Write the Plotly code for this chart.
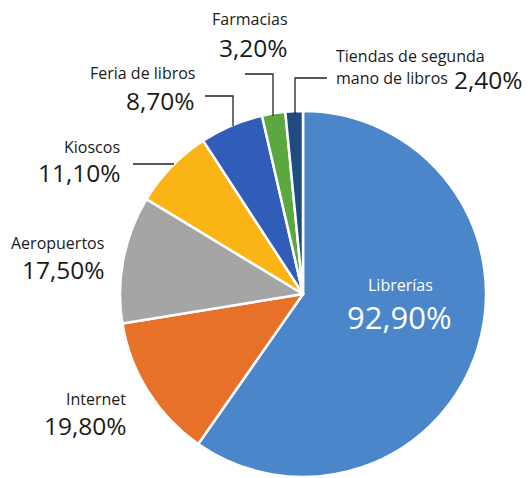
import plotly.graph_objects as go

categories = ["Librerías", "Internet", "Aeropuertos", "Kioscos", "Feria de libros",
              "Farmacias", "Tiendas de segunda mano de libros"]
values = [92.9, 19.8, 17.5, 11.1, 8.7, 3.2, 2.4]
colors = ["#4a86c9", "#e8712a", "#a5a5a5", "#fbb415", "#2f5db7", "#5aa83f", "#1f4b80"]

W, H = 528, 478
FONT = "Open Sans"
SMALL = 16
BIG = 24.5
INK = "#1a1a1a"


def fmt(v):
    return f"{v:.2f}".replace(".", ",") + "%"


def px(x):
    return x / W


def py(y):
    return 1 - y / H


fig = go.Figure(go.Pie(
    labels=categories,
    values=values,
    sort=False,
    direction="clockwise",
    rotation=0,
    marker=dict(colors=colors, line=dict(color="white", width=2.5)),
    textinfo="none",
    hoverinfo="label+value",
    showlegend=False,
    domain=dict(x=[px(303 - 184), px(303 + 184)], y=[py(294 + 183), py(294 - 183)]),
))

# label layout: (name, value, name x, name y, value x, value y, xanchor)
label_specs = [
    ("Internet", values[1], 128, 399, 129, 425, "right"),
    ("Aeropuertos", values[2], 106, 243, 107, 269, "right"),
    ("Kioscos", values[3], 122, 147, 123, 173, "right"),
    ("Feria de libros", values[4], 197, 73, 197, 100, "right"),
]
annotations = []
for name, v, nx, ny, vx, vy, anc in label_specs:
    annotations.append(dict(x=px(nx), y=py(ny), text=name, xanchor=anc, yanchor="middle",
                            showarrow=False, font=dict(family=FONT, size=SMALL, color=INK)))
    annotations.append(dict(x=px(vx), y=py(vy), text=fmt(v), xanchor=anc, yanchor="middle",
                            showarrow=False, font=dict(family=FONT, size=BIG, color=INK)))

# Farmacias (centered above)
annotations.append(dict(x=px(250), y=py(19), text=categories[5], xanchor="center", yanchor="middle",
                        showarrow=False, font=dict(family=FONT, size=SMALL, color=INK)))
annotations.append(dict(x=px(253), y=py(47), text=fmt(values[5]), xanchor="center", yanchor="middle",
                        showarrow=False, font=dict(family=FONT, size=BIG, color=INK)))
# Tiendas
annotations.append(dict(x=px(334), y=py(56), text="Tiendas de segunda", xanchor="left", yanchor="middle",
                        showarrow=False, font=dict(family=FONT, size=SMALL, color=INK)))
annotations.append(dict(x=px(334), y=py(78), text="mano de libros", xanchor="left", yanchor="middle",
                        showarrow=False, font=dict(family=FONT, size=SMALL, color=INK)))
annotations.append(dict(x=px(525), y=py(79), text=fmt(values[6]), xanchor="right", yanchor="middle",
                        showarrow=False, font=dict(family=FONT, size=BIG, color=INK)))
# Librerías inside
annotations.append(dict(x=px(400), y=py(285), text=categories[0], xanchor="center", yanchor="middle",
                        showarrow=False, font=dict(family=FONT, size=16, color="white")))
annotations.append(dict(x=px(399), y=py(317), text=fmt(values[0]), xanchor="center", yanchor="middle",
                        showarrow=False, font=dict(family=FONT, size=31, color="white")))

# leader lines (polylines in pixel-space converted to paper)
leaders = [
    [(133, 164), (174, 164)],
    [(205, 96), (233, 96), (233, 126)],
    [(245, 74), (273, 74), (273, 116)],
    [(327, 78), (295, 78), (295, 114)],
]
shapes = []
for pts in leaders:
    path = "M " + " L ".join(f"{px(x)},{py(y)}" for x, y in pts)
    shapes.append(dict(type="path", path=path, xref="paper", yref="paper",
                       line=dict(color="#222222", width=1.3)))

fig.update_layout(
    width=W, height=H,
    margin=dict(l=0, r=0, t=0, b=0),
    paper_bgcolor="white",
    plot_bgcolor="white",
    annotations=annotations,
    shapes=shapes,
)

fig.write_html("out.html", config={"displayModeBar": False},
               post_script="document.body.style.margin='0';")
